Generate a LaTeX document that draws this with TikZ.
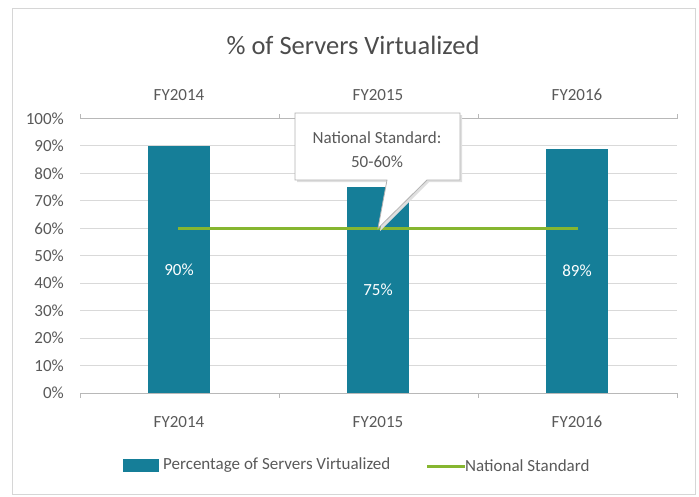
\documentclass[tikz,border=0pt]{standalone}
\usepackage{fontspec}
\setmainfont{Carlito}
\usetikzlibrary{positioning}
\definecolor{barteal}{RGB}{21,126,152}
\definecolor{stdgreen}{RGB}{134,182,48}
\definecolor{txtgray}{RGB}{89,89,89}
\definecolor{gridgray}{RGB}{217,217,217}
\definecolor{framegray}{RGB}{214,214,214}
\tikzset{
  gridline/.style={gridgray, line width=1pt},
  axisline/.style={gridgray!85!black, line width=1pt},
  ticklbl/.style={font=\fontsize{17}{20}\selectfont, text=txtgray, inner sep=0pt},
  datalbl/.style={font=\fontsize{17}{20}\selectfont, text=white, inner sep=0pt},
  stdline/.style={stdgreen, line width=3pt},
  calloutbox/.style={fill=white, draw=gray!60, line width=0.8pt, line join=miter},
}

\begin{document}
\begin{tikzpicture}[x=1pt, y=-1pt]
    \useasboundingbox (0,0) rectangle (699,496);
    \def\ybase{393}
    \def\ystep{27.45}

    % Chart frame
    \draw[framegray, line width=1pt] (12,8) rectangle (695,494);
    \node[font=\fontsize{26.5}{30}\selectfont, text=txtgray!85!black] (title) at (353,45) {\% of Servers Virtualized};

    % Grid and value axis labels
    \foreach \p in {1,...,9}
      \draw[gridline] (80,{\ybase-\p*\ystep}) -- (677,{\ybase-\p*\ystep});
    \foreach \p in {0,...,10}
      \node[ticklbl, anchor=east] (ylbl-\p) at (64,{\ybase-\p*\ystep}) {\the\numexpr\p*10\relax\%};

    % Category axes, bottom and top
    \draw[axisline] (80,\ybase) -- (677,\ybase);
    \draw[axisline] (80,{\ybase-10*\ystep}) -- (677,{\ybase-10*\ystep});
    \foreach \xx in {80,279,478,677}{
      \draw[axisline] (\xx,\ybase) -- (\xx,\ybase+5);
      \draw[axisline] (\xx,{\ybase-10*\ystep}) -- (\xx,{\ybase-10*\ystep-5});
    }

    % Bars with their data labels
    \foreach \cx/\val/\yr in {179/90/FY2014, 378/75/FY2015, 577/89/FY2016}{
      \fill[barteal] (\cx-31,\ybase) rectangle (\cx+31,{\ybase-\val*\ystep/10});
      \node[datalbl] (val-\yr) at (\cx,{\ybase-\val*\ystep/20}) {\val\%};
      \node[ticklbl] (bot-\yr) at (\cx,422) {\yr};
      \node[ticklbl] (top-\yr) at (\cx,95) {\yr};
    }

    % National standard line
    \coordinate (std-a) at (178,{\ybase-6*\ystep});
    \coordinate (std-b) at (578,{\ybase-6*\ystep});
    \coordinate (std-tip) at (378,{\ybase-6*\ystep});
    \draw[stdline] (std-a) -- (std-b);

    % Callout
    \fill[gray!25] (297,115) -- (462,115) -- (462,182) -- (429,182) -- (380,231) -- (389,182) -- (297,182) -- cycle;
    \draw[calloutbox] (295,113) -- (460,113) -- (460,180) -- (427,180) -- (std-tip) -- (387,180) -- (295,180) -- cycle;
    \node[ticklbl, align=center, font=\fontsize{17}{24}\selectfont] (callout) at (377,150) {National Standard:\\50-60\%};

    % Legend
    \fill[barteal] (123,459) rectangle (159,472);
    \node[ticklbl, anchor=west] (leg-bar) at (163,465) {Percentage of Servers Virtualized};
    \coordinate (leg-a) at (427,466);
    \coordinate (leg-b) at (465,466);
    \draw[stdline] (leg-a) -- (leg-b);
    \node[ticklbl, anchor=west] (leg-std) at (leg-b) {National Standard};
\end{tikzpicture}
\end{document}
